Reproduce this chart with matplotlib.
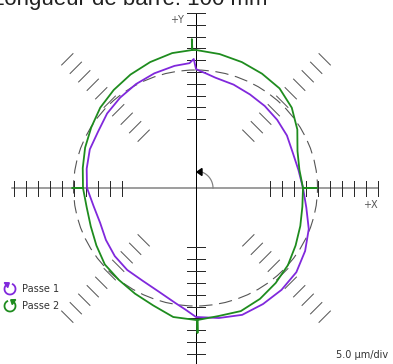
import numpy as np
import matplotlib
matplotlib.use("Agg")
import matplotlib.pyplot as plt
from matplotlib.patches import Ellipse, Polygon

# ---- data (radius in plot pixels at polar angle in degrees, CCW from +X) ----
p1_angle = [0, 10, 20, 30, 40, 50, 60, 70, 80, 85, 88, 90, 91, 93, 100, 110, 120, 130,
            140, 150, 160, 170, 180, 190, 200, 210, 220, 230, 240, 250, 260, 265, 270,
            280, 290, 300, 310, 320, 330, 340, 350, 360]
p1_radius = [107, 104, 103, 105, 106, 107, 108, 110, 112, 115, 117, 119, 129, 125, 124, 122,
             120, 118, 116, 113, 113, 111, 109, 104, 102, 104, 106, 107, 107, 110, 117, 122,
             129, 132, 135, 134, 133, 131, 126, 120, 112, 107]

p2_angle = [0, 0.01, 0.02, 10, 20, 30, 40, 50, 60, 70, 80, 90, 91.5, 91.6, 91.7, 100, 110,
            120, 130, 140, 150, 160, 170, 180, 180.01, 180.02, 190, 200, 210, 220, 230, 240,
            250, 260, 270, 270.5, 270.6, 270.7, 280, 290, 300, 310, 320, 330, 340, 350, 360]
p2_radius = [107, 121, 107, 105, 108, 117, 125, 130, 132, 134, 136, 138, 138, 149, 138, 137,
             134, 131, 128, 125, 121, 118, 115, 113, 124, 113, 111, 112, 115, 119, 120, 122,
             125, 131, 132, 132, 145, 132, 130, 131, 128, 124, 120, 115, 111, 108, 107]

series_labels = ["Passe 1", "Passe 2"]
series_colors = ["#8028DC", "#1E8C1E"]
title_text = "Longueur de barre: 100 mm"
scale_text = "5.0 \u00b5m/div"

# ---- figure in pixel coordinates ----
W, H = 393, 364
fig = plt.figure(figsize=(W / 100, H / 100), dpi=100)
ax = fig.add_axes([0, 0, 1, 1])
ax.set_xlim(0, W)
ax.set_ylim(H, 0)
ax.axis("off")

cx, cy = 196, 188
px = 0.72  # points per pixel

def to_xy(ang, rad):
    a = np.deg2rad(np.asarray(ang, float))
    r = np.asarray(rad, float)
    return cx + r * np.cos(a), cy - r * np.sin(a)

# axes lines
ax.plot([12, 378], [cy, cy], color="#808080", lw=1.5 * px, zorder=2)
ax.plot([cx, cx], [13, H], color="black", lw=1.0 * px, zorder=2)

# tick bands
tick_col = "#2a2a2a"
for k in range(10):
    d = 74 + 12 * k
    for sgn in (-1, 1):
        ax.plot([cx + sgn * d] * 2, [cy - 7.5, cy + 7.5], color=tick_col, lw=1 * px, zorder=2)
    yt = 13 + 11.8 * k
    yb = 247 + 11.9 * k
    for y in (yt, yb):
        ax.plot([cx - 9, cx + 9], [y, y], color=tick_col, lw=1 * px, zorder=2)
    # diagonals
    for ang in (45, 135, 225, 315):
        a = np.deg2rad(ang)
        ux, uy = np.cos(a), -np.sin(a)
        vx, vy = -uy, ux
        mx, my = cx + d * ux, cy + d * uy
        ax.plot([mx - 8 * vx, mx + 8 * vx], [my - 8 * vy, my + 8 * vy],
                color="#555555", lw=1 * px, zorder=2)

# reference circle
ax.add_patch(Ellipse((195.5, cy), 244, 236, fill=False, ec="#555555",
                     lw=0.8, ls=(0, (12, 6)), zorder=3))

# curves
x1, y1 = to_xy(p1_angle, p1_radius)
x2, y2 = to_xy(p2_angle, p2_radius)
ax.plot(x1, y1, color=series_colors[0], lw=1.8 * px, zorder=4)
ax.plot(x2, y2, color=series_colors[1], lw=1.8 * px, zorder=5)

# centre rotation arrow
t = np.deg2rad(np.linspace(0, 78, 30))
ax.plot(cx + 17 * np.cos(t), cy - 17 * np.sin(t), color="#808080", lw=1.2 * px, zorder=6)
ax.add_patch(Polygon([[cx + 1, cy - 16], [cx + 6, cy - 19.5], [cx + 6, cy - 12.5]],
                     closed=True, color="black", zorder=6))

# labels
ax.text(184, 20, "+Y", ha="right", va="center", fontsize=7, color="#555555",
        family="DejaVu Sans")
ax.text(370, 205, "+X", ha="center", va="center", fontsize=7, color="#555555",
        family="DejaVu Sans")
ax.text(388, 355, scale_text, ha="right", va="center", fontsize=7, color="#333333",
        family="DejaVu Sans")
ax.text(268, 5, title_text, ha="right", va="baseline", fontsize=16, color="#222222",
        family="Liberation Sans")

# legend with circular arrows
def circ_icon(xc, yc, color, clockwise):
    r = 5.5
    if clockwise:
        t = np.deg2rad(np.linspace(60, -240, 60))
    else:
        t = np.deg2rad(np.linspace(120, 420, 60))
    xs, ys = xc + r * np.cos(t), yc - r * np.sin(t)
    ax.plot(xs, ys, color=color, lw=1.8 * px, zorder=6)
    dx, dy = xs[-1] - xs[-3], ys[-1] - ys[-3]
    n = np.hypot(dx, dy)
    dx, dy = dx / n, dy / n
    tipx, tipy = xs[-1] + 2.5 * dx, ys[-1] + 2.5 * dy
    bx, by = xs[-1] - 1.5 * dx, ys[-1] - 1.5 * dy
    ax.add_patch(Polygon([[tipx, tipy], [bx - 3 * dy, by + 3 * dx], [bx + 3 * dy, by - 3 * dx]],
                         closed=True, color=color, zorder=6))

for i, (lab, col) in enumerate(zip(series_labels, series_colors)):
    yc = 289 + 17 * i
    circ_icon(10, yc, col, clockwise=(i == 0))
    ax.text(22, yc, lab, ha="left", va="center", fontsize=7, color="#333333",
            family="DejaVu Sans")

fig.savefig("out.png", dpi=100)
